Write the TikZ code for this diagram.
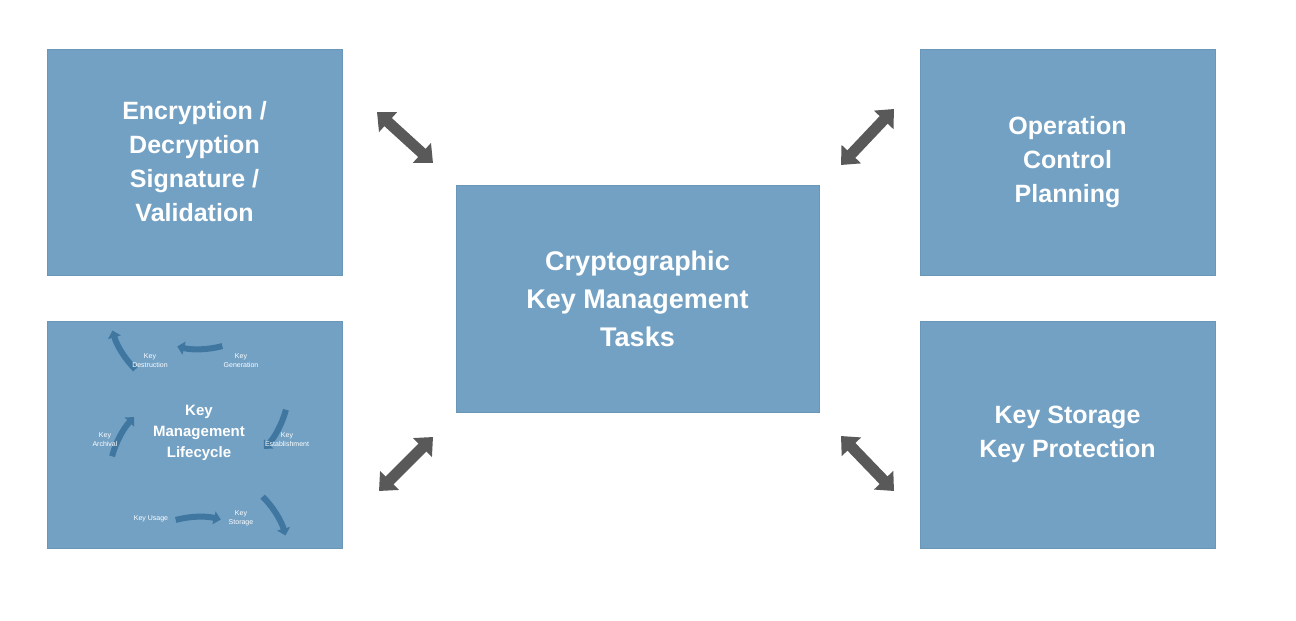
\documentclass[tikz,border=0pt]{standalone}
\usepackage{fontspec}
\setmainfont{Liberation Sans}
\usetikzlibrary{arrows.meta}
\definecolor{boxblue}{HTML}{73A1C4}
\definecolor{boxedge}{HTML}{6A96B8}
\definecolor{arrgray}{HTML}{595959}
\definecolor{cyc}{HTML}{3F77A0}
\tikzset{
  blk/.style={draw=boxedge,fill=boxblue,text=white,font=\bfseries\fontsize{25}{34}\selectfont,align=center,inner sep=0},
  dbl/.style={draw=arrgray,line width=11pt,{Triangle[width=26pt,length=15pt]}-{Triangle[width=26pt,length=15pt]}},
  cyl/.style={text=white,font=\fontsize{7}{9}\selectfont,align=center},
  cya/.style={draw=cyc,line width=6pt,-{Triangle[width=13pt,length=7pt]}}
}
\begin{document}
\begin{tikzpicture}[x=1pt,y=-1pt]
\useasboundingbox (0,0) rectangle (1296,621);
\fill[white] (0,0) rectangle (1296,621);
\node[blk,minimum width=295pt,minimum height=226pt] (tl) at (194.5,162) {Encryption /\\Decryption\\Signature /\\Validation};
\node[blk,minimum width=295pt,minimum height=227pt] (bl) at (194.5,434.5) {};
\node[blk,minimum width=363pt,minimum height=227pt,font=\bfseries\fontsize{27}{38}\selectfont] (c) at (637.5,298.5) {Cryptographic\\Key Management\\Tasks};
\node[blk,minimum width=295pt,minimum height=226pt] (tr) at (1067.5,162) {Operation\\Control\\Planning};
\node[blk,minimum width=295pt,minimum height=227pt] (br) at (1067.5,434.5) {Key Storage\\Key Protection};
\coordinate (a1) at (377,112); \coordinate (a2) at (433,163);
\coordinate (b1) at (894,109); \coordinate (b2) at (841,165);
\coordinate (c1) at (379,491); \coordinate (c2) at (433,437);
\coordinate (d1) at (841,436); \coordinate (d2) at (894,491);
\draw[dbl] (a1) -- (a2);
\draw[dbl] (b1) -- (b2);
\draw[dbl] (c1) -- (c2);
\draw[dbl] (d1) -- (d2);
% lifecycle
\coordinate (o) at (199,433);
\node[text=white,font=\bfseries\fontsize{15}{21}\selectfont,align=center] (kml) at (o) {Key\\Management\\Lifecycle};
\foreach \a in {90,30,-30,-90,-150,150}{
  \draw[cya] ([shift={(\a+15:90)}]o) arc[start angle=-(\a+15),end angle=-(\a-14),radius=90];
}
\node[cyl] (g) at ([shift={(60:-1)}]o) [xshift=42pt,yshift=-(-1)*0pt] {};
\node[cyl] (kg) at (241,361) {Key\\Generation};
\node[cyl] (ke) at (287,440) {Key\\Establishment};
\node[cyl] (ks) at (241,518) {Key\\Storage};
\node[cyl] (ku) at (151,519) {Key Usage};
\node[cyl] (ka) at (105,440) {Key\\Archival};
\node[cyl] (kd) at (150,361) {Key\\Destruction};
\end{tikzpicture}
\end{document}
